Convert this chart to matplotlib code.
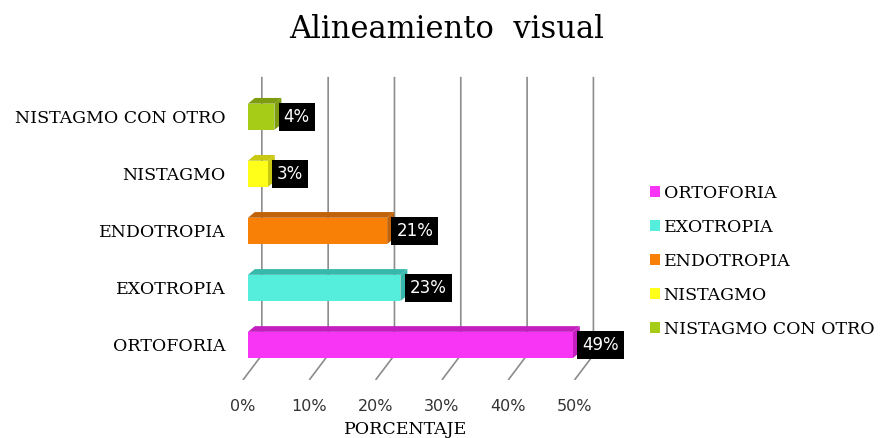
import matplotlib.pyplot as plt
import numpy as np

categories = ['ORTOFORIA', 'EXOTROPIA', 'ENDOTROPIA', 'NISTAGMO', 'NISTAGMO CON OTRO']
values = [49, 23, 21, 3, 4]
colors = ['#F935F5', '#55EEDD', '#F98007', '#FFFF1A', '#A6CC17']
side_colors = ['#C21FBE', '#36B8AA', '#C0620A', '#C8C812', '#7E9C10']
xticks = [0, 10, 20, 30, 40, 50]

# depth offsets (data units)
gx = 2.1      # back wall shift of gridlines
fx = -0.75    # front edge of floor
bdx = 1.05    # bar depth x
bdy = 0.10    # bar depth y
h = 0.23      # half bar height

fig = plt.figure(figsize=(8.8, 4.38), dpi=100)
ax = fig.add_axes([230 / 880, (438 - 380) / 438, 380 / 880, 310 / 438])
ax.set_xlim(-2.7, 54.6)
ax.set_ylim(-0.614, 4.82)

y_top = 4.70
y_floor_back = -0.175
y_floor_front = -0.614
for t in xticks:
    ax.plot([t + gx, t + gx, t + fx], [y_top, y_floor_back, y_floor_front],
            color='#8c8c8c', lw=1.2, zorder=1, solid_capstyle='butt')

for i, (v, c, sc) in enumerate(zip(values, colors, side_colors)):
    ax.add_patch(plt.Polygon([(0, i + h), (v, i + h), (v + bdx, i + h + bdy), (bdx, i + h + bdy)],
                             closed=True, fc=sc, ec='none', zorder=3))
    ax.add_patch(plt.Polygon([(v, i - h), (v + bdx, i - h + bdy), (v + bdx, i + h + bdy), (v, i + h)],
                             closed=True, fc=sc, ec='none', zorder=3))
    ax.barh(i, v, height=2 * h, color=c, zorder=4)
    ax.text(v + 1.4, i, '%d%%' % v, color='white', fontsize=12, va='center', ha='left',
            zorder=5, bbox=dict(boxstyle='square,pad=0.3', fc='black', ec='none'))

ax.set_yticks(range(len(categories)))
ax.set_yticklabels(categories, family='DejaVu Serif', fontsize=12.5)
ax.set_xticks(np.array(xticks) + fx)
ax.set_xticklabels(['%d%%' % t for t in xticks], fontsize=11.5, color='#333333')
ax.tick_params(axis='both', length=0)
ax.tick_params(axis='y', pad=3)
ax.tick_params(axis='x', pad=14)
for s in ax.spines.values():
    s.set_visible(False)

ax.set_xlabel('PORCENTAJE', family='DejaVu Serif', fontsize=12.5)
ax.xaxis.set_label_coords((406 - 230) / 380, (380 - 421) / 310)

handles = [plt.Rectangle((0, 0), 1, 1, fc=c) for c in colors]
fig.legend(handles, categories, loc='upper left', bbox_to_anchor=(634 / 880, 1 - 169 / 438),
           frameon=False, handlelength=0.6, handleheight=0.6, handletextpad=0.2,
           labelspacing=0.98, prop={'family': 'DejaVu Serif', 'size': 12.5})

fig.text(447 / 880, 1 - 30 / 438, 'Alineamiento  visual', family='DejaVu Serif',
         fontsize=22, ha='center', va='center')

fig.savefig('out.png', dpi=100)
